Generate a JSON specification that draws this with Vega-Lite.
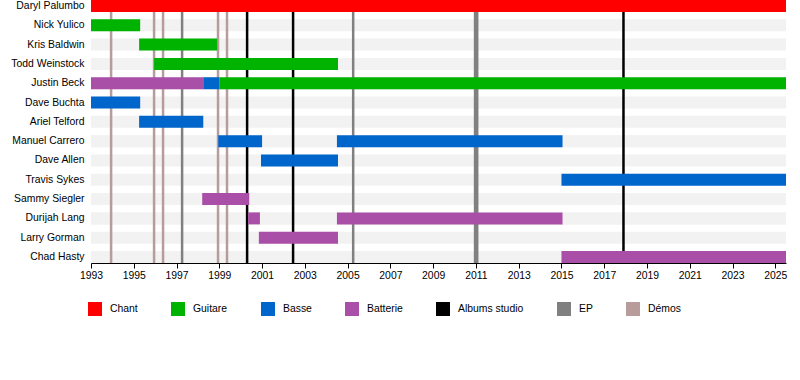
{
  "$schema": "https://vega.github.io/schema/vega-lite/v6.json",
  "width": 695,
  "height": 263,
  "autosize": {"type": "none"},
  "padding": {"left": 91, "top": 0, "right": 14, "bottom": 117},
  "background": "white",
  "config": {
    "view": {"stroke": null},
    "font": "Liberation Sans",
    "axis": {"labelFont": "Liberation Sans", "labelFontSize": 10.4, "labelColor": "black"},
    "legend": {"labelFont": "Liberation Sans", "labelFontSize": 10.4, "labelColor": "black"}
  },
  "datasets": {
    "bars": [
      {"member": "Daryl Palumbo", "role": "Chant", "start": 1993, "end": 2025.5},
      {"member": "Nick Yulico", "role": "Guitare", "start": 1993, "end": 1995.3},
      {"member": "Kris Baldwin", "role": "Guitare", "start": 1995.25, "end": 1998.9},
      {"member": "Todd Weinstock", "role": "Guitare", "start": 1995.95, "end": 2004.55},
      {"member": "Justin Beck", "role": "Batterie", "start": 1993, "end": 1998.25},
      {"member": "Justin Beck", "role": "Basse", "start": 1998.25, "end": 1999},
      {"member": "Justin Beck", "role": "Guitare", "start": 1999, "end": 2025.5},
      {"member": "Dave Buchta", "role": "Basse", "start": 1993, "end": 1995.3},
      {"member": "Ariel Telford", "role": "Basse", "start": 1995.25, "end": 1998.25},
      {"member": "Manuel Carrero", "role": "Basse", "start": 1998.95, "end": 2001},
      {"member": "Manuel Carrero", "role": "Basse", "start": 2004.5, "end": 2015.05},
      {"member": "Dave Allen", "role": "Basse", "start": 2000.95, "end": 2004.55},
      {"member": "Travis Sykes", "role": "Basse", "start": 2015, "end": 2025.5},
      {"member": "Sammy Siegler", "role": "Batterie", "start": 1998.2, "end": 2000.4},
      {"member": "Durijah Lang", "role": "Batterie", "start": 2000.35, "end": 2000.9},
      {"member": "Durijah Lang", "role": "Batterie", "start": 2004.5, "end": 2015.05},
      {"member": "Larry Gorman", "role": "Batterie", "start": 2000.85, "end": 2004.55},
      {"member": "Chad Hasty", "role": "Batterie", "start": 2015, "end": 2025.5}
    ],
    "events": [
      {"type": "Démos", "year": 1993.94},
      {"type": "Démos", "year": 1995.95},
      {"type": "Démos", "year": 1996.37},
      {"type": "Démos", "year": 1998.94},
      {"type": "Démos", "year": 1999.36},
      {"type": "EP", "year": 1997.26},
      {"type": "EP", "year": 2005.26},
      {"type": "EP", "year": 2010.96},
      {"type": "EP", "year": 2011.06},
      {"type": "Albums studio", "year": 2000.3},
      {"type": "Albums studio", "year": 2002.45},
      {"type": "Albums studio", "year": 2017.9}
    ]
  },
  "layer": [
    {
      "data": {"name": "bars"},
      "mark": {"type": "bar", "color": "#f2f2f2"},
      "encoding": {
        "y": {"field": "member", "type": "nominal",
          "sort": ["Daryl Palumbo","Nick Yulico","Kris Baldwin","Todd Weinstock","Justin Beck","Dave Buchta","Ariel Telford","Manuel Carrero","Dave Allen","Travis Sykes","Sammy Siegler","Durijah Lang","Larry Gorman","Chad Hasty"],
          "scale": {"paddingInner": 0.378, "paddingOuter": 0},
          "axis": {"title": null, "domain": false, "ticks": false, "labelPadding": 7}},
        "x": {"datum": 1993, "type": "quantitative"},
        "x2": {"datum": 2025.5}
      }
    },
    {
      "data": {"name": "events"},
      "mark": {"type": "rule", "strokeWidth": 2.5},
      "encoding": {
        "x": {"field": "year", "type": "quantitative"},
        "color": {"field": "type", "type": "nominal"}
      }
    },
    {
      "data": {"name": "bars"},
      "mark": {"type": "bar"},
      "encoding": {
        "y": {"field": "member", "type": "nominal",
          "sort": ["Daryl Palumbo","Nick Yulico","Kris Baldwin","Todd Weinstock","Justin Beck","Dave Buchta","Ariel Telford","Manuel Carrero","Dave Allen","Travis Sykes","Sammy Siegler","Durijah Lang","Larry Gorman","Chad Hasty"]},
        "x": {"field": "start", "type": "quantitative",
          "scale": {"domain": [1993, 2025.5], "nice": false, "zero": false},
          "axis": {"title": null, "values": [1993,1994,1995,1996,1997,1998,1999,2000,2001,2002,2003,2004,2005,2006,2007,2008,2009,2010,2011,2012,2013,2014,2015,2016,2017,2018,2019,2020,2021,2022,2023,2024,2025],
            "labelExpr": "(datum.value - 1993) % 2 == 0 ? datum.value : ''",
            "format": "d", "grid": false, "domainColor": "black", "tickColor": "black", "tickSize": 5, "labelPadding": 2, "labelFlush": false, "labelOverlap": false}},
        "x2": {"field": "end"},
        "color": {"field": "role", "type": "nominal",
          "scale": {"domain": ["Chant","Guitare","Basse","Batterie","Albums studio","EP","Démos"],
            "range": ["#ff0000","#00b300","#0066cc","#aa4fa8","#000000","#808080","#b89c9c"]},
          "legend": {"title": null, "orient": "none", "legendX": -3, "legendY": 302, "direction": "horizontal", "columns": 7, "columnPadding": 33, "symbolType": "square", "symbolSize": 196, "symbolStrokeWidth": 0, "symbolOpacity": 1, "labelOffset": 8}}
      }
    }
  ]
}
